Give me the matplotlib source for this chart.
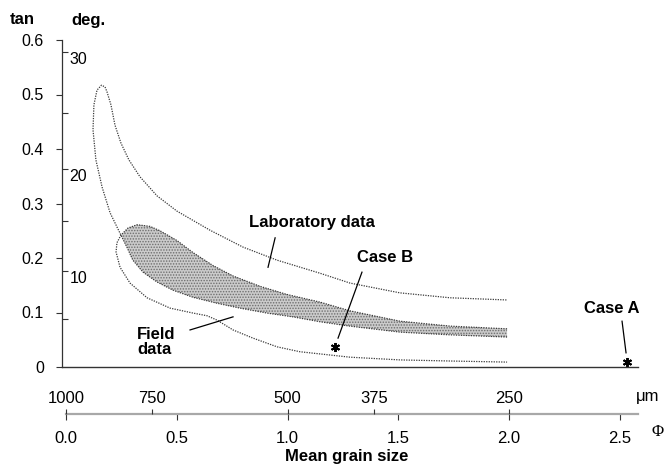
import numpy as np
import matplotlib
matplotlib.use('Agg')
import matplotlib.pyplot as plt

plt.rcParams['font.family'] = ['Liberation Sans', 'DejaVu Sans']
plt.rcParams['hatch.linewidth'] = 0.7

# lower edge of the laboratory envelope = lower edge of the shaded band (right end -> crossing)
band_low_phi = [1.991, 1.734, 1.508, 1.282, 1.147, 1.025, 0.907, 0.786, 0.682, 0.573,
                0.483, 0.411, 0.348, 0.302, 0.275, 0.248]
band_low_tan = [0.055, 0.059, 0.064, 0.075, 0.083, 0.092, 0.099, 0.108, 0.117, 0.128,
                0.141, 0.156, 0.174, 0.196, 0.220, 0.242]

# rest of the laboratory envelope: up the left side, over the tip, down to the right end
lab_rest_phi = [0.199, 0.163, 0.135, 0.122, 0.126, 0.140, 0.160, 0.176, 0.185, 0.203,
                0.221, 0.248, 0.284, 0.334, 0.411, 0.501, 0.650, 0.799, 0.953, 1.147,
                1.282, 1.508, 1.734, 1.991]
lab_rest_tan = [0.283, 0.330, 0.380, 0.435, 0.481, 0.508, 0.517, 0.514, 0.505, 0.481,
                0.444, 0.411, 0.380, 0.349, 0.314, 0.286, 0.251, 0.220, 0.196, 0.172,
                0.154, 0.136, 0.127, 0.123]

# upper edge of the field data = upper edge of the shaded band (right end -> crossing)
band_top_phi = [1.991, 1.734, 1.508, 1.282, 1.147, 0.998, 0.876, 0.754, 0.664, 0.573,
                0.501, 0.424, 0.379, 0.321, 0.280, 0.248]
band_top_tan = [0.070, 0.075, 0.084, 0.103, 0.119, 0.133, 0.148, 0.167, 0.186, 0.210,
                0.232, 0.250, 0.258, 0.261, 0.255, 0.242]

# rest of the field data outline: round the left side and along the bottom
field_rest_phi = [0.230, 0.226, 0.244, 0.289, 0.366, 0.470, 0.573, 0.637, 0.682, 0.754,
                  0.844, 0.953, 1.056, 1.282, 1.508, 1.734, 1.991]
field_rest_tan = [0.228, 0.211, 0.183, 0.154, 0.127, 0.108, 0.099, 0.094, 0.086, 0.068,
                  0.053, 0.037, 0.028, 0.018, 0.013, 0.011, 0.009]

case_names = ['Case A', 'Case B']
case_phi = [2.533, 1.214]
case_tan = [0.009, 0.037]

tan_ticks = [0, 0.1, 0.2, 0.3, 0.4, 0.5, 0.6]
tan_labels = ['0', '0.1', '0.2', '0.3', '0.4', '0.5', '0.6']
deg_ticks = [5, 10, 15, 20, 25, 30]
deg_labels = ['', '10', '', '20', '', '30']
phi_ticks = [0.0, 0.5, 1.0, 1.5, 2.0, 2.5]
phi_labels = ['0.0', '0.5', '1.0', '1.5', '2.0', '2.5']
um_ticks = [0.0, 0.39, 1.0, 1.39, 2.0]
um_labels = ['1000', '750', '500', '375', '250']

# label text, anchor, and leader line (from, to)
notes = [
    ('Laboratory data', (1.111, 0.266), (0.944, 0.237), (0.912, 0.183)),
    ('Case B', (1.440, 0.200), (1.336, 0.174), (1.228, 0.053)),
    ('Case A', (2.465, 0.108), (2.510, 0.084), (2.528, 0.026)),
    ('Field\ndata', (0.321, 0.046), (0.560, 0.068), (0.754, 0.092)),
]

W, H = 665, 470
xlim = (-0.018, 2.582)
left, width = 62 / W, 576 / W

fig = plt.figure(figsize=(W / 100, H / 100), dpi=100)
ax = fig.add_axes([left, 1 - 367 / H, width, 327 / H])
ax.set_xlim(*xlim)
ax.set_ylim(0, 0.6)

dot = dict(color='#3a3a3a', lw=0.9, ls=(0, (1, 1)))
ax.fill(band_top_phi + band_low_phi[::-1], band_top_tan + band_low_tan[::-1],
        facecolor='#cbcbcb', edgecolor='#6e6e6e', hatch='......', lw=0)
ax.plot(band_low_phi + lab_rest_phi, band_low_tan + lab_rest_tan, **dot)
ax.plot(band_top_phi + field_rest_phi, band_top_tan + field_rest_tan, **dot)
ax.plot(case_phi, case_tan, ls='none', marker=(6, 2, 0), ms=6.5, mew=1.4, color='black')

for txt, pos, p0, p1 in notes:
    ha = 'left' if txt.startswith('Field') else 'center'
    ax.text(pos[0], pos[1], txt, ha=ha, va='center', fontsize=12, fontweight='bold',
            linespacing=1.0)
    ax.plot([p0[0], p1[0]], [p0[1], p1[1]], color='black', lw=0.9)

for s in ['top', 'right']:
    ax.spines[s].set_visible(False)
ax.spines['left'].set_color('#333333')
ax.spines['left'].set_linewidth(0.9)
ax.spines['bottom'].set_color('#333333')
ax.spines['bottom'].set_linewidth(1.0)
ax.set_xticks([])
ax.set_yticks(tan_ticks)
ax.set_yticklabels(tan_labels)
ax.tick_params(axis='y', direction='out', length=4, width=0.8, color='#333333',
               pad=9, labelsize=11.5)

# degree scale on the same spine, ticks pointing into the plot
ax_deg = ax.twinx()
ax_deg.set_ylim(0, 0.6)
ax_deg.spines['right'].set_position(('axes', 0))
for s in ax_deg.spines.values():
    s.set_visible(False)
ax_deg.set_yticks(np.tan(np.radians(deg_ticks)))
ax_deg.set_yticklabels(deg_labels, va='top')
ax_deg.tick_params(axis='y', direction='out', length=4, width=0.8, color='#333333',
                   pad=1.5, labelsize=11.5)

# grain size axis: phi below, micrometres above
axp = fig.add_axes([left, 1 - 414 / H, width, 0.0001])
axp.set_xlim(*xlim)
axp.patch.set_visible(False)
for s in ['top', 'left', 'right']:
    axp.spines[s].set_visible(False)
axp.spines['bottom'].set_color('#a8a8a8')
axp.spines['bottom'].set_linewidth(1.6)
axp.spines['bottom'].set_bounds(0, 2.58)
axp.set_yticks([])
axp.set_xticks(phi_ticks)
axp.set_xticklabels(phi_labels)
axp.tick_params(axis='x', direction='out', length=4, width=0.8, color='#333333',
                pad=8, labelsize=12)

axu = axp.twiny()
axu.set_xlim(*xlim)
for s in axu.spines.values():
    s.set_visible(False)
axu.set_xticks(um_ticks)
axu.set_xticklabels(um_labels)
axu.tick_params(axis='x', direction='out', length=3.5, width=0.8, color='#333333',
                pad=2.5, labelsize=12)

fig.text(22 / W, 1 - 19 / H, 'tan', ha='center', va='center', fontsize=12, fontweight='bold')
fig.text(88 / W, 1 - 21 / H, 'deg.', ha='center', va='center', fontsize=12, fontweight='bold')
fig.text(648 / W, 1 - 397 / H, 'μm', ha='center', va='center', fontsize=12)
fig.text(658 / W, 1 - 432 / H, 'Φ', ha='center', va='center', fontsize=12,
         family=['Liberation Serif', 'DejaVu Serif'])
fig.text(347 / W, 1 - 457 / H, 'Mean grain size', ha='center', va='center',
         fontsize=12, fontweight='bold')

fig.savefig('out.png', dpi=100)
